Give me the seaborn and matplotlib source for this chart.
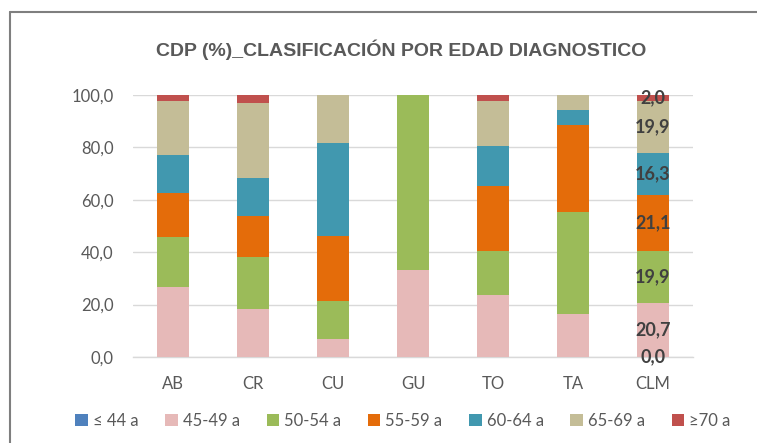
import pandas as pd
import matplotlib.pyplot as plt
from matplotlib.patches import Patch
from matplotlib.lines import Line2D
import seaborn as sns

# datos
regiones = ['AB', 'CR', 'CU', 'GU', 'TO', 'TA', 'CLM']
grupos = ['≤ 44 a', '45-49 a', '50-54 a', '55-59 a', '60-64 a', '65-69 a', '≥70 a']
colores = ['#4F81BD', '#E6B9B8', '#9BBB59', '#E46C0A', '#4198AF', '#C4BD97', '#C0504D']

edad_44 = [0.0, 0.0, 0.0, 0.0, 0.0, 0.0, 0.0]
edad_45_49 = [26.7, 18.2, 6.8, 33.1, 23.6, 16.3, 20.7]
edad_50_54 = [19.1, 20.0, 14.4, 66.9, 16.8, 39.1, 19.9]
edad_55_59 = [16.7, 15.8, 24.9, 0.0, 24.9, 33.3, 21.1]
edad_60_64 = [14.5, 14.4, 35.7, 0.0, 15.3, 5.7, 16.3]
edad_65_69 = [20.9, 28.7, 18.2, 0.0, 17.0, 5.6, 19.9]
edad_70 = [2.1, 2.9, 0.0, 0.0, 2.4, 0.0, 2.0]

series = [edad_44, edad_45_49, edad_50_54, edad_55_59, edad_60_64, edad_65_69, edad_70]
yticks = [0, 20, 40, 60, 80, 100]

sns.set_style('white')
plt.rcParams['font.family'] = ['Lato', 'DejaVu Sans']

filas = []
for g, vals in zip(grupos, series):
    for r, v in zip(regiones, vals):
        filas.append({'region': r, 'grupo': g, 'valor': v})
df = pd.DataFrame(filas)
df['grupo'] = pd.Categorical(df['grupo'], categories=grupos, ordered=True)
df = df.sort_values(['region', 'grupo'])
df['acum'] = df.groupby('region', observed=True)['valor'].cumsum()

fig = plt.figure(figsize=(7.57, 4.43), dpi=100)
ax = fig.add_axes([133 / 757, 1 - 357 / 443, 560 / 757, 262 / 443])

# capas acumuladas, de arriba hacia abajo
for g, c in reversed(list(zip(grupos, colores))):
    sub = df[df['grupo'] == g]
    sns.barplot(data=sub, x='region', y='acum', order=regiones, color=c,
                saturation=1, width=0.39, linewidth=0, ax=ax, zorder=3)

# etiquetas de CLM
clm = df[df['region'] == 'CLM']
xi = regiones.index('CLM')
for _, fila in clm.iterrows():
    y = fila['acum'] - fila['valor'] / 2
    ax.text(xi, y, f"{fila['valor']:.1f}".replace('.', ','), ha='center', va='center',
            fontsize=13, fontweight='bold', color='#404040', zorder=5)

ax.set_ylim(0, 100)
ax.set_xlim(-0.5, len(regiones) - 0.5)
ax.set_yticks(yticks)
ax.set_yticklabels([f'{t:.1f}'.replace('.', ',') for t in yticks])
ax.set_xlabel('')
ax.set_ylabel('')
ax.grid(axis='y', color='#D9D9D9', linewidth=1, zorder=0)
ax.set_axisbelow(True)
for s in ['top', 'right', 'left']:
    ax.spines[s].set_visible(False)
ax.spines['bottom'].set_color('#D9D9D9')
ax.spines['bottom'].set_linewidth(1)
ax.tick_params(axis='both', length=0, labelsize=12, labelcolor='#595959')
ax.tick_params(axis='y', pad=14)
ax.tick_params(axis='x', pad=14)

fig.text(401 / 757, 1 - 50 / 443, 'CDP (%)_CLASIFICACIÓN POR EDAD DIAGNOSTICO',
         ha='center', va='center', fontsize=14, fontweight='bold', color='#595959',
         family=['Liberation Sans Narrow', 'Liberation Sans', 'DejaVu Sans'])

handles = [Patch(facecolor=c, edgecolor='none', label=g) for g, c in zip(grupos, colores)]
fig.legend(handles=handles, loc='center', bbox_to_anchor=(403 / 757, 1 - 421 / 443),
           ncol=7, frameon=False, fontsize=12, labelcolor='#595959',
           handlelength=0.75, handleheight=0.75, handletextpad=0.3, columnspacing=1.6)

# borde del gráfico
fig.add_artist(Line2D([10 / 757, 10 / 757], [0, 1 - 12 / 443], transform=fig.transFigure,
                      color='#7F7F7F', linewidth=1.5))
fig.add_artist(Line2D([10 / 757, 1], [1 - 12 / 443, 1 - 12 / 443], transform=fig.transFigure,
                      color='#7F7F7F', linewidth=1.5))

fig.savefig('out.png', dpi=100)
